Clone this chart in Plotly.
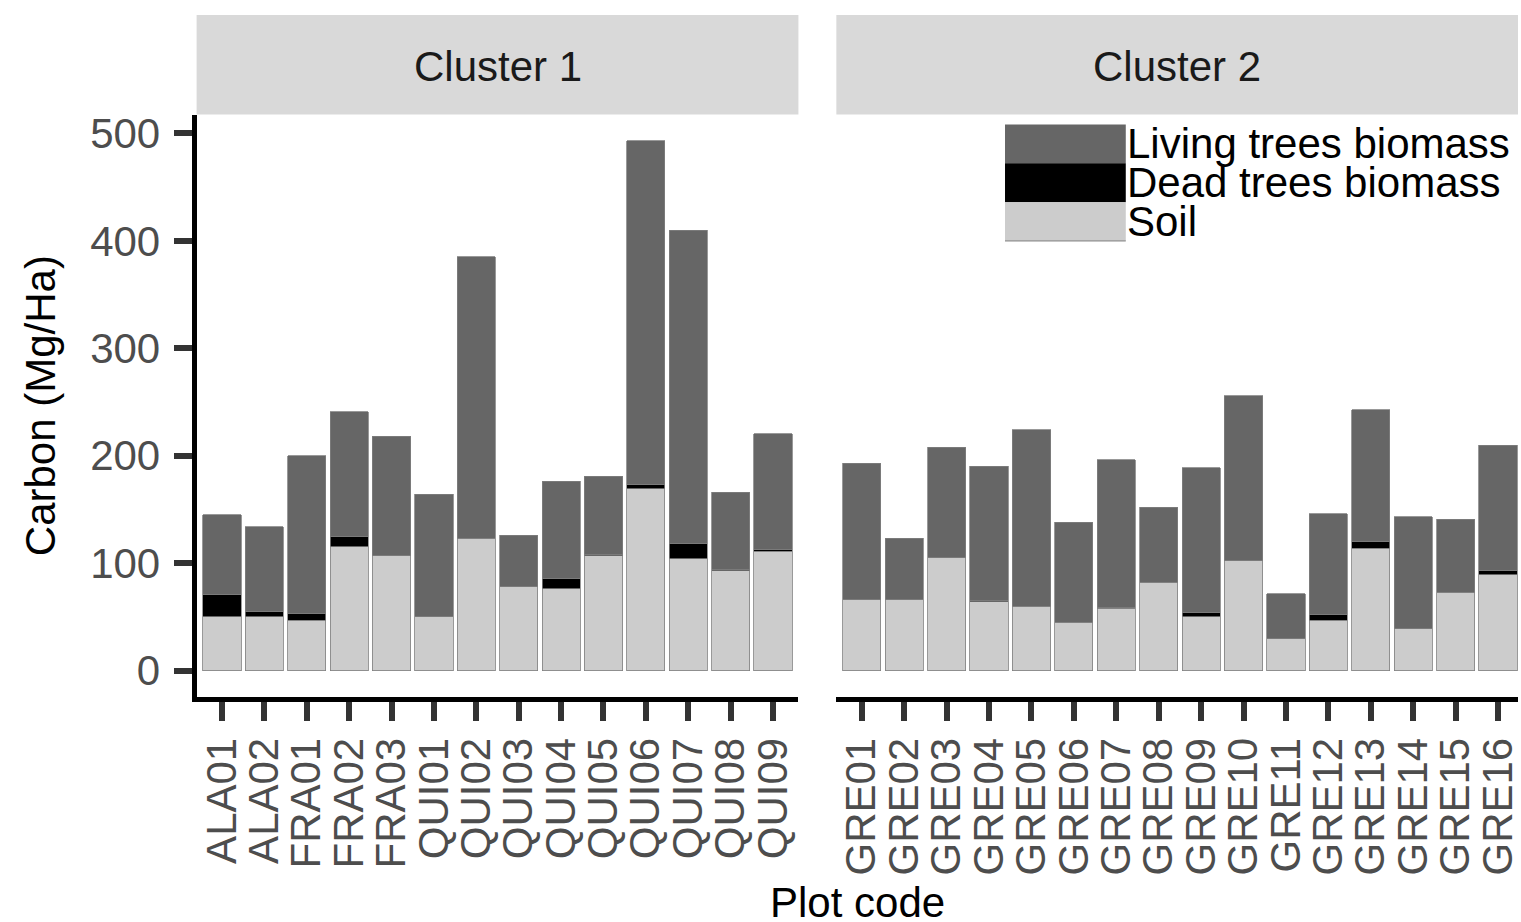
import plotly.graph_objects as go

W, H = 1521, 922

# ---- data ----
plots_c1 = ["ALA01", "ALA02", "FRA01", "FRA02", "FRA03", "QUI01", "QUI02",
            "QUI03", "QUI04", "QUI05", "QUI06", "QUI07", "QUI08", "QUI09"]
soil_c1 = [50, 50, 47, 115, 107, 50, 123, 78, 76, 107, 169, 104, 93, 111]
dead_c1 = [21, 5, 6, 10, 0, 0, 0, 0, 10, 1, 4, 14, 1.5, 1.5]
living_c1 = [74, 79, 147, 116, 111, 114, 262, 48, 90, 73, 320, 292, 71.5, 108]

plots_c2 = ["GRE01", "GRE02", "GRE03", "GRE04", "GRE05", "GRE06", "GRE07", "GRE08",
            "GRE09", "GRE10", "GRE11", "GRE12", "GRE13", "GRE14", "GRE15", "GRE16"]
soil_c2 = [66, 66, 105, 64, 60, 45, 58, 82, 50, 102, 29.5, 47, 114, 39, 73, 89]
dead_c2 = [0, 0, 0, 1, 0, 0, 1, 0, 4, 0, 0, 5, 6, 0, 0, 4.5]
living_c2 = [127, 57, 103, 125, 164, 93, 137, 70, 135, 154, 42, 94, 123, 104, 68, 116]

series_names = ["Soil", "Dead trees biomass", "Living trees biomass"]
series_colors = ["#CCCCCC", "#000000", "#666666"]
panel_titles = ["Cluster 1", "Cluster 2"]
y_ticks = [0, 100, 200, 300, 400, 500]


def px_x(p):
    return p / W


def px_y(p):
    return 1 - p / H


FONT = "Liberation Sans, Arial, sans-serif"
FS = 42

fig = go.Figure()

panels = [
    (plots_c1, [soil_c1, dead_c1, living_c1], "x", "y"),
    (plots_c2, [soil_c2, dead_c2, living_c2], "x2", "y2"),
]
for cats, vals, xa, ya in panels:
    for name, color, v in zip(series_names, series_colors, vals):
        fig.add_trace(go.Bar(
            x=cats, y=v, name=name, xaxis=xa, yaxis=ya,
            marker=dict(color=color, line=dict(color="#7F7F7F", width=0.8)),
            showlegend=False,
        ))

ymax = max(s + d + l for s, d, l in zip(soil_c1 + soil_c2, dead_c1 + dead_c2, living_c1 + living_c2))
yrange = [-0.05 * ymax, 1.05 * ymax]

ydom = [px_y(696), px_y(111)]
common_x = dict(
    type="category", showgrid=False, zeroline=False,
    showline=True, linewidth=5, linecolor="black",
    tickmode="linear", tick0=0, dtick=1,
    ticks="outside", ticklen=19, tickwidth=6, tickcolor="#333333",
    tickangle=-90, ticklabelstandoff=0,
    tickfont=dict(family=FONT, size=FS, color="#4D4D4D"),
)
fig.update_layout(
    width=W, height=H,
    margin=dict(l=0, r=0, t=0, b=0),
    paper_bgcolor="white", plot_bgcolor="white",
    barmode="stack", bargap=0.1,
    showlegend=False,
    xaxis=dict(domain=[px_x(197), px_x(800)], range=[-0.6, len(plots_c1) - 0.4],
               anchor="y", **common_x),
    xaxis2=dict(domain=[px_x(838), 1.0], range=[-0.6, 15.47],
                anchor="y2", **common_x),
    yaxis=dict(domain=ydom, range=yrange, anchor="x", showgrid=False, zeroline=False,
               showline=True, linewidth=5, linecolor="black",
               ticks="outside", ticklen=18, tickwidth=6, tickcolor="#333333",
               tickvals=y_ticks, ticklabelstandoff=5,
               tickfont=dict(family=FONT, size=FS, color="#4D4D4D")),
    yaxis2=dict(domain=ydom, range=yrange, anchor="x2", matches="y",
                showgrid=False, zeroline=False, showline=False,
                showticklabels=False, ticks=""),
)

shapes = []
annotations = []
# facet strips
for (x0, x1), title in zip([(197, 800), (838, 1521)], panel_titles):
    shapes.append(dict(type="rect", xref="paper", yref="paper",
                       x0=px_x(x0), x1=px_x(x1), y0=px_y(111), y1=px_y(11),
                       fillcolor="#D9D9D9", line=dict(width=0), layer="below"))
    annotations.append(dict(text=title, xref="paper", yref="paper",
                            x=px_x((x0 + x1) / 2), y=px_y(63), showarrow=False,
                            xanchor="center", yanchor="middle",
                            font=dict(family=FONT, size=FS, color="#1A1A1A")))

# legend (drawn manually to match large keys)
legend_order = [("Living trees biomass", "#666666"),
                ("Dead trees biomass", "#000000"),
                ("Soil", "#CCCCCC")]
for i, (lab, col) in enumerate(legend_order):
    top = 121 + 39 * i
    shapes.append(dict(type="rect", xref="paper", yref="paper",
                       x0=px_x(1007), x1=px_x(1128), y0=px_y(top + 39), y1=px_y(top),
                       fillcolor=col, line=dict(width=0)))
    annotations.append(dict(text=lab, xref="paper", yref="paper",
                            x=px_x(1127), y=px_y(top + 19.5), showarrow=False,
                            xanchor="left", yanchor="middle",
                            font=dict(family=FONT, size=FS, color="black")))
shapes.append(dict(type="line", xref="paper", yref="paper",
                   x0=px_x(1007), x1=px_x(1128), y0=px_y(238), y1=px_y(238),
                   line=dict(color="#7F7F7F", width=1)))

# axis titles
annotations.append(dict(text="Carbon (Mg/Ha)", xref="paper", yref="paper",
                        x=px_x(40), y=px_y(403), showarrow=False, textangle=-90,
                        xanchor="center", yanchor="middle",
                        font=dict(family=FONT, size=FS, color="black")))
annotations.append(dict(text="Plot code", xref="paper", yref="paper",
                        x=px_x(859), y=px_y(902), showarrow=False,
                        xanchor="center", yanchor="middle",
                        font=dict(family=FONT, size=FS, color="black")))

fig.update_layout(shapes=shapes, annotations=annotations)

fig.write_html("out.html")
